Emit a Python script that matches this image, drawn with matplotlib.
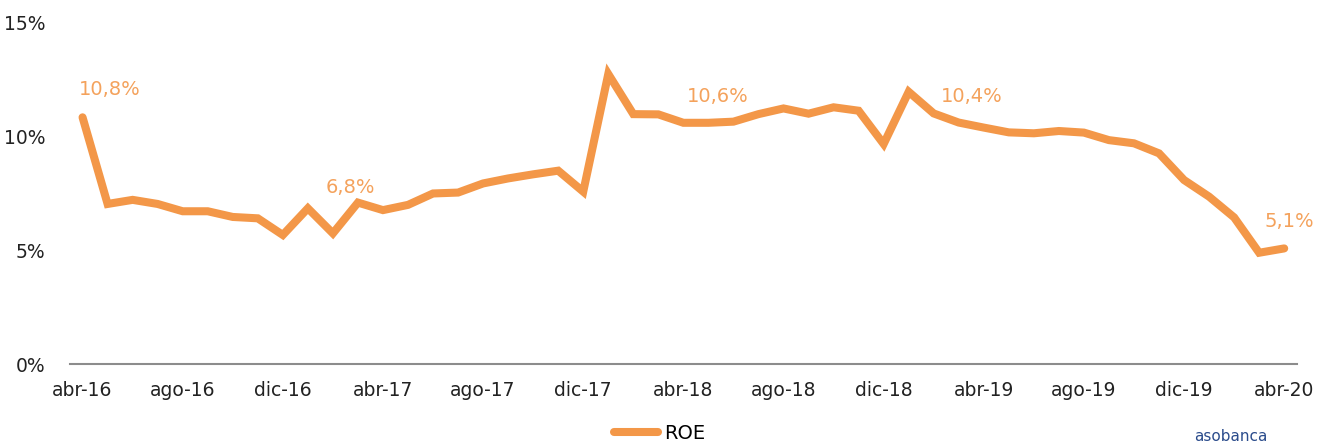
import matplotlib.pyplot as plt

plt.rcParams['font.family'] = ['DejaVu Sans']

months = ['abr', 'may', 'jun', 'jul', 'ago', 'sep', 'oct', 'nov', 'dic', 'ene', 'feb', 'mar']
fechas = []
for year in range(16, 21):
    for m in months:
        fechas.append(f'{m}-{year}')
fechas = fechas[:49]

roe = [10.82, 7.02, 7.20, 7.02, 6.70, 6.70, 6.45, 6.39, 5.66, 6.83,
       5.73, 7.08, 6.75, 6.98, 7.48, 7.52, 7.92, 8.14, 8.32, 8.48,
       7.56, 12.72, 10.96, 10.95, 10.58, 10.58, 10.63, 10.96, 11.21, 10.98,
       11.26, 11.11, 9.65, 11.94, 10.99, 10.59, 10.37, 10.16, 10.12, 10.22,
       10.15, 9.82, 9.68, 9.24, 8.07, 7.34, 6.43, 4.88, 5.07]

etiquetas = {0: '10,8%', 12: '6,8%', 24: '10,6%', 36: '10,4%', 48: '5,1%'}
# label placement (data coords)
pos_etiq = {0: (1.08, 12.06), 12: (10.7, 7.76), 24: (25.36, 11.75),
            36: (35.5, 11.75), 48: (48.2, 6.23)}

color = '#F39748'

fig = plt.figure(figsize=(13.19, 4.45), dpi=100)
ax = fig.add_axes([0.0531, 0.182, 0.930, 0.7685])

x = list(range(len(roe)))
ax.plot(x, roe, color=color, linewidth=5.8, solid_joinstyle='miter',
        solid_capstyle='round', label='ROE')

for i, txt in etiquetas.items():
    px, py = pos_etiq[i]
    ax.text(px, py, txt, color='#F4A25C', fontsize=14, ha='center', va='center')

ax.set_xlim(-0.5, 48.5)
ax.set_ylim(0, 15)
ax.set_yticks([0, 5, 10, 15])
ax.set_yticklabels(['0%', '5%', '10%', '15%'])
ax.set_xticks(x[::4])
ax.set_xticklabels(fechas[::4])
ax.tick_params(axis='both', length=0, labelsize=13.5, colors='#222222')
ax.tick_params(axis='x', pad=12)
ax.tick_params(axis='y', pad=18)

for s in ['top', 'right', 'left']:
    ax.spines[s].set_visible(False)
ax.spines['bottom'].set_color('#8C8C8C')
ax.spines['bottom'].set_linewidth(1.5)

fig.legend(loc='lower center', bbox_to_anchor=(0.5, -0.035), frameon=False,
           fontsize=14, handlelength=2.3, handletextpad=0.3)

fig.text(0.905, 0.002, 'asobanca', color='#2B4C8C', fontsize=11, ha='left', va='bottom')

fig.savefig('out.png', dpi=100)
